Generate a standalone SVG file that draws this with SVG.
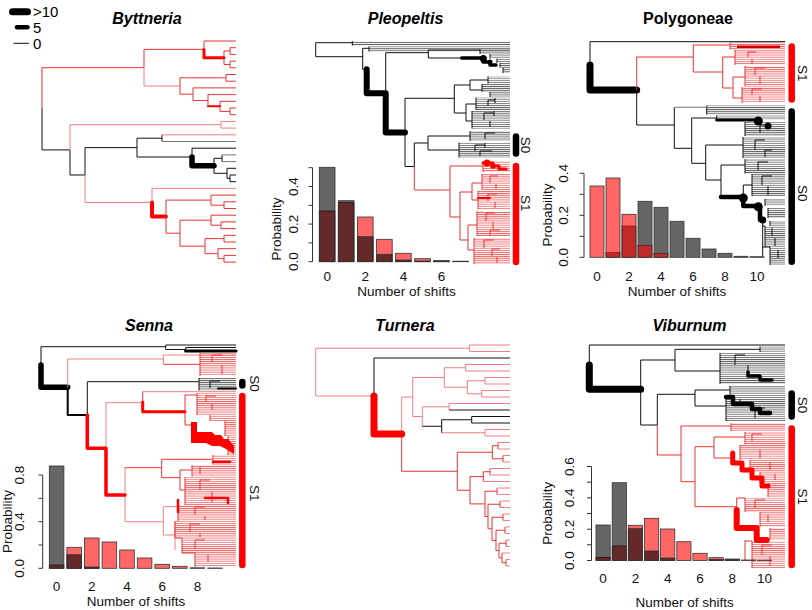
<svg xmlns="http://www.w3.org/2000/svg" width="812" height="610" viewBox="0 0 812 610">
<defs>
<pattern id="hk" width="10" height="2.1" patternUnits="userSpaceOnUse"><rect width="10" height="0.9" fill="#5e5e5e"/></pattern>
<pattern id="hr" width="10" height="2.1" patternUnits="userSpaceOnUse"><rect width="10" height="0.9" fill="#ee6262"/></pattern>
</defs>
<style>
.k{fill:none;stroke:#111;stroke-width:1}
.g{fill:none;stroke:#777;stroke-width:1}
.r{fill:none;stroke:#e53535;stroke-width:1}
.p{fill:none;stroke:#f08080;stroke-width:1}
.tk{fill:none;stroke:#000;stroke-linecap:round;stroke-linejoin:round}
.tr{fill:none;stroke:#f00;stroke-linecap:round;stroke-linejoin:round}
.dk{fill:#000}
.dr{fill:#f00}
.fk{fill:url(#hk)}
.fr{fill:url(#hr)}
.title{font-family:"Liberation Sans",Arial,sans-serif;font-weight:bold;font-size:16px;text-anchor:middle}
.it{font-style:italic}
.ax{font-family:"Liberation Sans",Arial,sans-serif;font-size:13.5px;text-anchor:middle;fill:#111}
.lg{font-family:"Liberation Sans",Arial,sans-serif;font-size:15px;fill:#000}
.bR{fill:rgba(255,0,0,0.6);stroke:#333;stroke-width:0.8}
.bK{fill:rgba(0,0,0,0.6);stroke:#333;stroke-width:0.8}
.axis{fill:none;stroke:#333;stroke-width:1}
.bar{fill:none;stroke-linecap:round;stroke-width:6.5}
</style>
<rect width="812" height="610" fill="#fff"/>

<g id="legend">
<path class="tk" d="M12.5 11.7H27.5" stroke-width="7"/>
<path class="tk" d="M17 27.3H27.5" stroke-width="4.5"/>
<path class="k" d="M13.5 43.3H29"/>
<text class="lg" x="33" y="16.5">&gt;10</text>
<text class="lg" x="33" y="32.5">5</text>
<text class="lg" x="33" y="48.5">0</text>
</g>

<g id="titles">
<text class="title it" x="147" y="23.5">Byttneria</text>
<text class="title it" x="405.5" y="23.5">Pleopeltis</text>
<text class="title" x="688" y="24">Polygoneae</text>
<text class="title it" x="149" y="330.5">Senna</text>
<text class="title it" x="405" y="330.5">Turnera</text>
<text class="title it" x="689.5" y="330.5">Viburnum</text>
</g>

<g id="byttneria">
<path class="r" d="M42 67.7V108M42 67.7H144M144 49.4V67.7M144 49.4H204M204 41V49.4M204 41H236M224 51V64.5M224 51H230M230 47.7V54.4M230 47.7H236M230 54.4H236M224 64.5H230M230 61.1V67.8M230 61.1H236M230 67.8H236"/>
<path class="p" d="M144 67.7V86M144 86H180"/>
<path class="r" d="M180 77.8V94.2M180 77.8H226M226 74.5V81.2M226 74.5H236M226 81.2H236M180 94.2H193M193 87.9V100.5M193 87.9H236M193 100.5H208M208 94.6V106.3M208 94.6H236M220 101.3V111.4M220 101.3H236M220 111.4H230M230 108V114.7M230 108H236M230 114.7H236"/>
<path class="tr" d="M204 49.4V57.7H224" stroke-width="3"/>
<path class="tr" d="M208 106.3H220" stroke-width="2"/>
<path class="k" d="M42 108V149.9M42 149.9H70M70 150V175M70 175H85M85 147.6V175M85 147.6H137M137 138.2V157M137 138.2H162M162 134.8V141.5M137 157H192M192 148.2V157M192 148.2H236M214 158.3V173.3M214 158.3H222M222 154.9V161.6M214 173.3H227M227 168.3V178.3M227 168.3H236M227 178.3H230M230 175V181.7M230 175H236M230 181.7H236"/>
<path class="g" d="M162 141.5H236M222 154.9H236M222 161.6H236"/>
<path class="tk" d="M192 157V165.8H214" stroke-width="5.5"/>
<path class="p" d="M70 124.7V150M70 124.7H221M221 121.4V128.1M221 121.4H236M221 128.1H236M162 134.8H236M85 175V202.5M85 202.5H152M152 188.4V202.5M152 188.4H236"/>
<path class="tr" d="M152 202.5V216.6H166" stroke-width="4"/>
<path class="r" d="M166 200.1V233.2M166 200.1H211M211 195.1V205.2M211 195.1H236M211 205.2H224M224 201.8V208.5M224 201.8H236M224 208.5H236M166 233.2H180M180 220.2V246.2M180 220.2H211M211 215.2V225.2M211 215.2H236M211 225.2H221M221 221.9V228.6M221 221.9H236M221 228.6H236M180 246.2H205M205 238.6V253.7M205 238.6H224M224 235.3V242M224 235.3H236M224 242H236M205 253.7H218M218 248.7V258.7M218 248.7H236M218 258.7H224M224 255.4V262.1M224 255.4H236M224 262.1H236"/>
</g>

<g id="turnera">
<path class="p" d="M315.7 348.25V396M315.7 348.25H469.3M469.3 345V351.5M469.3 345H510M469.3 351.5H510M315.7 396H374"/>
<path class="k" d="M374 358V396M374 358H510"/>
<path class="p" d="M401.7 397V434M401.7 397H412.7M412.7 377.5V416.5M412.7 377.5H444.3M444.3 367.75V387.25M444.3 367.75H465.7M465.7 364.5V371M465.7 364.5H510M465.7 371H510M444.3 387.25H467.3M467.3 380.75V393.75M467.3 380.75H485M485 377.5V384M485 377.5H510M485 384H510M467.3 393.75H481.7M481.7 390.5V397M481.7 390.5H510M481.7 397H510M412.7 416.5H422.3M422.3 406.75V426.25M422.3 406.75H449M449 403.5V410M449 403.5H510M441.7 432.75H485M485 429.5V436M485 429.5H510M485 436H510"/>
<path class="k" d="M449 410H510M422.3 426.25H441.7M441.7 419.75V432.75M441.7 419.75H471.7M471.7 416.5V423M471.7 416.5H510M471.7 423H510"/>
<path class="r" d="M401.7 434V471.25M401.7 471.25H457.3M457.3 452.25V490.25M457.3 452.25H492.3M492.3 445.75V458.75M492.3 445.75H498M498 442.5V449M492.3 458.75H503M503 455.5V462M457.3 490.25H470M470 476.6V503.9M470 476.6H483.3M483.3 471.75V481.5M483.3 471.75H490M490 468.5V475M470 503.9H485M485 491.25V516.5M485 491.25H497M497 488V494.5M485 516.5H488M488 504.25V528.8M488 504.25H500M500 501V507.5M488 528.8H492M492 517.25V540.4M492 517.25H503M503 514V520.5M492 540.4H496M496 530.25V550.6M496 530.25H505M505 527V533.5M496 550.6H499M499 543.25V557.9M499 543.25H506M506 540V546.5M499 557.9H502M502 553V562.75M502 562.75H506M506 559.5V566"/>
<path class="p" d="M498 442.5H510M498 449H510M503 455.5H510M503 462H510M490 468.5H510M490 475H510M483.3 481.5H510M497 488H510M497 494.5H510M500 501H510M500 507.5H510M503 514H510M503 520.5H510M505 527H510M505 533.5H510M506 540H510M506 546.5H510M502 553H510M506 559.5H510M506 566H510"/>
<path class="tr" d="M374 396V434.1H401.7" stroke-width="7"/>
</g>

<g id="pleopeltis">
<rect class="fk" x="352.3" y="41" width="157.7" height="4.5"/>
<rect class="fk" x="369" y="46.5" width="141" height="5"/>
<rect class="fk" x="480" y="49" width="30" height="5"/>
<rect class="fk" x="490" y="54" width="20" height="4.5"/>
<rect class="fk" x="497" y="58.5" width="13" height="4.5"/>
<rect class="fk" x="500" y="63" width="10" height="4.5"/>
<rect class="fk" x="503" y="67.5" width="7" height="5.5"/>
<rect class="fk" x="488" y="76.5" width="22" height="7"/>
<rect class="fk" x="482" y="84" width="28" height="8"/>
<rect class="fk" x="490" y="92" width="20" height="5"/>
<rect class="fk" x="476" y="97.5" width="34" height="12.5"/>
<rect class="fk" x="472" y="111" width="38" height="17.5"/>
<rect class="fk" x="470" y="131" width="40" height="10"/>
<rect class="fk" x="459" y="142.5" width="51" height="15"/>
<rect class="fr" x="483" y="161" width="27" height="11"/>
<rect class="fr" x="482" y="174" width="28" height="16"/>
<rect class="fr" x="478" y="191" width="32" height="18.5"/>
<rect class="fr" x="477" y="211" width="33" height="25"/>
<rect class="fr" x="474" y="238" width="36" height="26"/>
<path class="k" d="M315.7 42.7V56.7M315.7 42.7H352.3M315.7 56.7H362.7M352.3 41V45.5M362.7 48.3V69.3M362.7 48.3H369M369 46.5V51.5M362.7 69.3H366.7M385.7 52.7V93.3M385.7 52.7H428.3M428.3 50V58M428.3 50H480M428.3 58H461.7M480 49V54M490 54V58.5M497 58.5V63M500 63V67.5M503 67.5V73M405 98.3V166.5M405 98.3H454.3M405 166.5H414.3M454.3 85V113M454.3 85H470M470 80V90M470 80H488M470 90H482M488 76.5V83.5M482 84V92M490 92V97M454.3 113H466M466 104V121M466 104H476M466 121H472M476 97.5V110M472 111V128.5M488 100V106M488 100H495M495 98V103M484 113V120M484 113H494M494 111V116M490 121V127M414.3 143V166.5M414.3 143H428M428 136V150M428 136H470M428 150H459M470 131V141M459 142.5V157.5M475 145V151M475 145H485M485 143V148M480 151V156M480 151H492M485 133V139M485 133H495"/>
<path class="tk" d="M366.7 69.3V93.3H385.7V132.4H405" stroke-width="6"/>
<path class="tk" d="M461.7 58H483V62H490V65H496" stroke-width="3.5"/>
<circle class="dk" cx="483.3" cy="58.5" r="3.6"/>
<circle class="dk" cx="490" cy="62" r="2.5"/>
<path class="r" d="M414.3 166.5V190M414.3 190H450M450 166V217M450 166H483M450 217H460M460 192V240M460 192H472M472 183V200M472 183H482M472 200H478M460 240H468M468 225V250M468 225H477M468 250H474M483 161V172M482 174V190M478 191V209.5M477 211V236M474 238V264M490 176V183M490 176H498M496 184V189M488 194V201M488 194H497M495 202V208M486 213V221M486 213H495M493 222V229M490 230V236M490 230H500M484 240V248M484 240H494M492 249V256M492 249H500M497 257V263"/>
<path class="tr" d="M483 163H493V166H499V169H506" stroke-width="3"/>
<circle class="dr" cx="487" cy="163" r="3.5"/>
<circle class="dr" cx="493" cy="166" r="2.8"/>
<path class="tr" d="M478 198H490" stroke-width="2.2"/>
</g>

<g id="polygoneae">
<rect class="fr" x="730" y="42.5" width="55" height="7"/>
<rect class="fr" x="735" y="50" width="50" height="15"/>
<rect class="fr" x="745" y="66" width="40" height="20.5"/>
<rect class="fr" x="742" y="87" width="43" height="16"/>
<rect class="fk" x="706.7" y="105.5" width="78.3" height="9"/>
<rect class="fk" x="716.7" y="115.5" width="68.3" height="4"/>
<rect class="fk" x="745" y="122" width="40" height="14"/>
<rect class="fk" x="743" y="137" width="42" height="21"/>
<rect class="fk" x="745" y="159" width="40" height="14.5"/>
<rect class="fk" x="752" y="174" width="33" height="22"/>
<rect class="fk" x="765" y="199" width="20" height="7"/>
<rect class="fk" x="768" y="208" width="17" height="10"/>
<rect class="fk" x="770" y="221" width="15" height="5"/>
<rect class="fk" x="765" y="226" width="20" height="21"/>
<rect class="fk" x="770" y="247" width="15" height="18"/>
<path class="k" d="M590 41.7V65M590 41.7H785M636.7 90V125M636.7 125H674.3M674.3 107.3V148.3M674.3 148.3H691.7M706.7 105.5V114.5M745 122V136M743 137V158M745 159V173.5M752 174V196M765 199V206M768 208V218M770 221V226M765 226V247M770 247V265M762.7 220V256M762.7 226H765M762.7 247H770M755 140V150M755 140H765M765 150V157M765 150H772M760 125V133M760 125H770M758 162V170M758 162H768M762 176V185M762 176H772M768 186V195M772 228V236M775 238V246M778 250V258"/>
<path class="g" d="M674.3 107.3H706.7"/>
<path class="k" d="M691.7 118V163.3M691.7 118H716.7M716.7 115.5V120M691.7 163.3H705.7M705.7 145V180M705.7 145H743M705.7 180H721M721 165V197M721 165H745M743.3 185V198M743.3 185H752" stroke-width="1.6"/>
<path class="tk" d="M590 65V90H636.7" stroke-width="7"/>
<path class="tk" d="M716.7 120H758" stroke-width="3"/>
<circle class="dk" cx="758.3" cy="121" r="4.5"/>
<circle class="dk" cx="768" cy="126" r="3.5"/>
<path class="tk" d="M721 197H743.3V206H758.3M760 207V220" stroke-width="4.5"/>
<circle class="dk" cx="743.3" cy="198" r="4.5"/>
<circle class="dk" cx="758.3" cy="206.7" r="4.5"/>
<circle class="dk" cx="762.7" cy="220" r="3.5"/>
<path class="r" d="M636.7 57V90M636.7 57H693.3M693.3 45V72M693.3 45H730M693.3 72H722.7M722.7 57V88M722.7 57H735M722.7 88H733M733 77V98M733 77H745M733 98H742M730 42.5V49.5M735 50V65M745 66V86.5M742 87V103M748 52V57M748 52H756M752 59V64M755 68V75M755 68H765M760 76V84M752 89V95M752 89H762M760 96V102"/>
<path d="M737 46.7H780" fill="none" stroke="#c00" stroke-width="2.5"/>
</g>

<g id="senna">
<rect class="fk" x="199" y="378" width="37" height="12.5"/>
<rect class="fr" x="200" y="353" width="36" height="23"/>
<rect class="fr" x="197" y="393" width="39" height="22"/>
<rect class="fr" x="210" y="415" width="26" height="6"/>
<rect class="fr" x="225" y="421" width="11" height="15"/>
<rect class="fr" x="228" y="436" width="8" height="19"/>
<rect class="fr" x="213" y="455" width="23" height="9.5"/>
<rect class="fr" x="192" y="465" width="44" height="11.5"/>
<rect class="fr" x="185" y="477" width="51" height="28"/>
<rect class="fr" x="178" y="505" width="58" height="16"/>
<rect class="fr" x="175" y="521" width="61" height="17"/>
<rect class="fr" x="182" y="538" width="54" height="15"/>
<rect class="fr" x="195" y="553" width="41" height="14"/>
<path class="k" d="M41 346.7V365M41 346.7H165.7M165.7 345V349.5M165.7 345H236M165.7 349.5H185.7M185.7 347.5V351M185.7 347.5H236M87.3 381.7V415M87.3 381.7H199M199 378V390.5M210 381V388M210 381H220"/>
<path class="tk" d="M185.7 351H236" stroke-width="3.2"/>
<path class="tk" d="M218 388.5H236" stroke-width="2"/>
<path class="tk" d="M41 365V387.3H67.7" stroke-width="5.5"/>
<path class="tk" d="M67.7 387.3V415H87.3" stroke-width="2"/>
<path class="p" d="M67.7 359V387.3M67.7 359H163.3M163.3 355V364.3M163.3 355H236M106 402.7V448.3M106 402.7H142.7M142.7 391.7H236M125 467.7V521.7M125 521.7H163.3M163.3 506.7V535M163.3 506.7H178M163.3 535H175M175 522V550"/>
<path class="r" d="M163.3 364.3H200M200 353V376M142.7 391.7V402M185 395V425M185 395H197M197 393V415M185 425H192M210 415V421M225 421V436M228 436V455M125 467.7H161.7M161.7 459.3V477.7M161.7 459.3H213M213 455V464.5M161.7 477.7H180M180 470V490M180 470H192M192 465V476.5M180 490H185M185 477V505M178 505V521M175 521V538M182 538V553M195 553V567M175 538H182M182 553H195M212 355V362M212 355H222M222 365V374M206 396V402M206 396H216M212 404V410M200 467V474M200 480V490M200 480H210M212 492V502M195 507V515M195 507H205M205 516V520M190 524V532M190 524H200M200 533V537M195 540V549M195 540H205M208 555V562"/>
<path class="tr" d="M87.3 415V448.3H106V495H125" stroke-width="3.5"/>
<path class="tr" d="M142.7 402V411.7H185" stroke-width="3"/>
<path d="M191 422H197V432H212L215 435H221L224 439H228L234 446V454L226 449L220 446H212L206 443H191Z" fill="#f00"/>
<path class="tr" d="M213 462H230M205 498H228V503M178 500V512" stroke-width="2.5"/>
</g>

<g id="viburnum">
<rect class="fk" x="760" y="346.5" width="25" height="5.5"/>
<rect class="fk" x="720" y="353" width="65" height="31"/>
<rect class="fk" x="730" y="386" width="55" height="8.5"/>
<rect class="fk" x="726" y="395" width="59" height="26"/>
<rect class="fr" x="731" y="423" width="54" height="8"/>
<rect class="fr" x="745" y="432" width="40" height="12.5"/>
<rect class="fr" x="740" y="445" width="45" height="15"/>
<rect class="fr" x="750" y="460" width="35" height="12"/>
<rect class="fr" x="760" y="472" width="25" height="11"/>
<rect class="fr" x="768" y="483" width="17" height="14"/>
<rect class="fr" x="745" y="498" width="40" height="14"/>
<rect class="fr" x="760" y="512" width="25" height="15"/>
<rect class="fr" x="770" y="528" width="15" height="12"/>
<rect class="fr" x="752" y="541" width="33" height="27"/>
<path class="k" d="M589.3 345V365M589.3 345H785M640.7 360V425M640.7 360H675M675 349.3V371M675 349.3H760M760 346.5V352M675 371H720M720 353V384M640.7 425H657.3M657.3 394.3V425M657.3 394.3H695M695 390V406M695 390H730M730 386V394.5M695 406H726M726 395V421M735 355V365M735 355H745M748 365V378M740 399V405M755 408V418M755 408H765"/>
<path class="tk" d="M596 389.3" stroke-width="7"/>
<path class="tk" d="M589.3 365V389.3H640.7" stroke-width="7"/>
<path class="tk" d="M748 372V376H760V380H772" stroke-width="3.5"/>
<path class="tk" d="M726 397H733V404H752V409H760V413H770" stroke-width="4.5"/>
<path class="r" d="M657.3 425V455M657.3 455H681M681 426V481.7M681 426H731M731 423V431M681 481.7H695M695 446.7V506.7M695 446.7H714M714 437V458M714 437H745M745 432V444.5M714 458H732.7M740 445V460M750 460V472M760 472V483M768 483V497M695 506.7H736.7M736.7 498V510M736.7 498H745M745 498V512M760 512V527M770 528V540M752 541V568M745 540V560M745 541H752M752 434V441M752 434H762M760 450V458M770 462V470M775 474V480M755 500V508M755 500H765M768 515V522M762 545V555M762 545H772M770 556V566"/>
<path class="tr" d="M732.7 453V463H742V470H752V478H762V486H768" stroke-width="5"/>
<path class="tr" d="M736.7 510V528H756.7V540H766.7" stroke-width="6"/>
</g>

<g id="state-bars">
<path class="bar" stroke="#000" d="M516 136.5V153.5"/>
<path class="bar" stroke="#f00" d="M516 166V262"/>
<path class="bar" stroke="#f00" d="M791.7 46.5V99.5"/>
<path class="bar" stroke="#000" d="M791.7 111.5V261.8"/>
<path class="bar" stroke="#000" d="M242.3 382V385.5" stroke-width="7.5"/>
<path class="bar" stroke="#f00" d="M242.3 396V565"/>
<path class="bar" stroke="#000" d="M791.7 393.5V416.5"/>
<path class="bar" stroke="#f00" d="M791.7 428.5V565"/>
<text class="ax" transform="translate(521,145) rotate(90)">S0</text>
<text class="ax" transform="translate(521,203.3) rotate(90)">S1</text>
<text class="ax" transform="translate(798,73.3) rotate(90)">S1</text>
<text class="ax" transform="translate(798,193.3) rotate(90)">S0</text>
<text class="ax" transform="translate(249.5,383.5) rotate(90)">S0</text>
<text class="ax" transform="translate(249.5,493.3) rotate(90)">S1</text>
<text class="ax" transform="translate(798,405) rotate(90)">S0</text>
<text class="ax" transform="translate(798,496.7) rotate(90)">S1</text>
</g>

<g id="hist-pleopeltis">
<rect class="bR" x="319.3" y="211" width="15.7" height="50.7"/>
<rect class="bR" x="338.3" y="202.7" width="15.7" height="59"/>
<rect class="bR" x="357.4" y="217" width="15.7" height="44.7"/>
<rect class="bR" x="376.5" y="239.3" width="15.7" height="22.4"/>
<rect class="bR" x="395.5" y="253.3" width="15.7" height="8.4"/>
<rect class="bR" x="414.6" y="258.7" width="15.7" height="3"/>
<rect class="bR" x="433.6" y="260.7" width="15.7" height="1"/>
<rect class="bK" x="319.3" y="167.3" width="15.7" height="94.4"/>
<rect class="bK" x="338.3" y="200.7" width="15.7" height="61"/>
<rect class="bK" x="357.4" y="236.7" width="15.7" height="25"/>
<rect class="bK" x="376.5" y="254.3" width="15.7" height="7.4"/>
<rect class="bK" x="395.5" y="260" width="15.7" height="1.7"/>
<rect class="bK" x="414.6" y="261" width="15.7" height="0.7"/>
<rect class="bK" x="433.6" y="261" width="15.7" height="0.7"/>
<rect class="bK" x="452.7" y="261.2" width="15.7" height="0.5"/>
<path class="axis" d="M312.5 167.7V261.7M308.5 261.7H312.5M308.5 242.9H312.5M308.5 224.1H312.5M308.5 205.3H312.5M308.5 186.5H312.5M308.5 167.7H312.5"/>
<text class="ax" transform="translate(298,261.7) rotate(-90)">0.0</text>
<text class="ax" transform="translate(298,224.1) rotate(-90)">0.2</text>
<text class="ax" transform="translate(298,186.5) rotate(-90)">0.4</text>
<text class="ax" transform="translate(280.5,229) rotate(-90)">Probability</text>
<text class="ax" x="327.2" y="281">0</text>
<text class="ax" x="365.2" y="281">2</text>
<text class="ax" x="403.4" y="281">4</text>
<text class="ax" x="441.5" y="281">6</text>
<text class="ax" x="406.5" y="296">Number of shifts</text>
</g>

<g id="hist-polygoneae">
<rect class="bK" x="606" y="252.3" width="14" height="5"/>
<rect class="bK" x="622" y="226" width="14" height="31.3"/>
<rect class="bK" x="638" y="201.3" width="14" height="56"/>
<rect class="bK" x="654" y="207.3" width="14" height="50"/>
<rect class="bK" x="670" y="221.3" width="14" height="36"/>
<rect class="bK" x="686" y="238.3" width="14" height="19"/>
<rect class="bK" x="702" y="249" width="14" height="8.3"/>
<rect class="bK" x="718" y="253.3" width="14" height="4"/>
<rect class="bK" x="734" y="256.3" width="14" height="1"/>
<rect class="bK" x="750" y="256.7" width="14" height="0.6"/>
<rect class="bR" x="590" y="186" width="14" height="71.3"/>
<rect class="bR" x="606" y="178" width="14" height="79.3"/>
<rect class="bR" x="622" y="214.3" width="14" height="43"/>
<rect class="bR" x="638" y="245.3" width="14" height="12"/>
<rect class="bR" x="654" y="253.3" width="14" height="4"/>
<path class="axis" d="M584 173.3V257.3M579.5 257.3H584M579.5 236.3H584M579.5 215.3H584M579.5 194.3H584M579.5 173.3H584"/>
<text class="ax" transform="translate(568,257.3) rotate(-90)">0.0</text>
<text class="ax" transform="translate(568,215.3) rotate(-90)">0.2</text>
<text class="ax" transform="translate(568,173.3) rotate(-90)">0.4</text>
<text class="ax" transform="translate(551.5,215) rotate(-90)">Probability</text>
<text class="ax" x="597" y="281">0</text>
<text class="ax" x="629" y="281">2</text>
<text class="ax" x="661" y="281">4</text>
<text class="ax" x="693" y="281">6</text>
<text class="ax" x="725" y="281">8</text>
<text class="ax" x="757" y="281">10</text>
<text class="ax" x="677" y="296">Number of shifts</text>
</g>

<g id="hist-senna">
<rect class="bR" x="49.3" y="565" width="14.6" height="3.3"/>
<rect class="bR" x="66.9" y="547.3" width="14.6" height="21"/>
<rect class="bR" x="84.5" y="538" width="14.6" height="30.3"/>
<rect class="bR" x="102.1" y="542" width="14.6" height="26.3"/>
<rect class="bR" x="119.7" y="550" width="14.6" height="18.3"/>
<rect class="bR" x="137.3" y="558" width="14.6" height="10.3"/>
<rect class="bR" x="154.9" y="564.3" width="14.6" height="4"/>
<rect class="bR" x="172.5" y="566.3" width="14.6" height="2"/>
<rect class="bK" x="49.3" y="466" width="14.6" height="102.3"/>
<rect class="bK" x="66.9" y="554.7" width="14.6" height="13.6"/>
<rect class="bK" x="84.5" y="567" width="14.6" height="1.3"/>
<rect class="bK" x="190.1" y="567.8" width="14.6" height="0.5"/>
<rect class="bK" x="207.7" y="568" width="14.6" height="0.3"/>
<path class="axis" d="M42.7 475V568.3M38.5 568.3H42.7M38.5 545H42.7M38.5 521.7H42.7M38.5 498.3H42.7M38.5 475H42.7"/>
<text class="ax" transform="translate(23.5,568.3) rotate(-90)">0.0</text>
<text class="ax" transform="translate(23.5,521.7) rotate(-90)">0.4</text>
<text class="ax" transform="translate(23.5,475) rotate(-90)">0.8</text>
<text class="ax" transform="translate(11.5,521.5) rotate(-90)">Probability</text>
<text class="ax" x="56.6" y="591">0</text>
<text class="ax" x="91.8" y="591">2</text>
<text class="ax" x="127" y="591">4</text>
<text class="ax" x="162.2" y="591">6</text>
<text class="ax" x="197.4" y="591">8</text>
<text class="ax" x="136" y="605.5">Number of shifts</text>
</g>

<g id="hist-viburnum">
<rect class="bR" x="596" y="557.3" width="14.2" height="3.2"/>
<rect class="bR" x="612.2" y="546" width="14.2" height="14.5"/>
<rect class="bR" x="628.3" y="525.3" width="14.2" height="35.2"/>
<rect class="bR" x="644.5" y="518.3" width="14.2" height="42.2"/>
<rect class="bR" x="660.6" y="529" width="14.2" height="31.5"/>
<rect class="bR" x="676.8" y="541.7" width="14.2" height="18.8"/>
<rect class="bR" x="692.9" y="553.3" width="14.2" height="7.2"/>
<rect class="bR" x="709.1" y="557.7" width="14.2" height="2.8"/>
<rect class="bR" x="725.2" y="559" width="14.2" height="1.5"/>
<rect class="bK" x="596" y="525" width="14.2" height="35.5"/>
<rect class="bK" x="612.2" y="482.7" width="14.2" height="77.8"/>
<rect class="bK" x="628.3" y="528.7" width="14.2" height="31.8"/>
<rect class="bK" x="644.5" y="551" width="14.2" height="9.5"/>
<rect class="bK" x="660.6" y="558" width="14.2" height="2.5"/>
<rect class="bK" x="709.1" y="559.5" width="14.2" height="1"/>
<rect class="bK" x="725.2" y="559.5" width="14.2" height="1"/>
<rect class="bK" x="741.4" y="560" width="14.2" height="0.5"/>
<rect class="bK" x="757.5" y="560.2" width="14.2" height="0.3"/>
<path class="axis" d="M591.5 466.5V560.5M587 560.5H591.5M587 544.8H591.5M587 529.2H591.5M587 513.5H591.5M587 497.8H591.5M587 482.2H591.5M587 466.5H591.5"/>
<text class="ax" transform="translate(574,560.5) rotate(-90)">0.0</text>
<text class="ax" transform="translate(574,529.2) rotate(-90)">0.2</text>
<text class="ax" transform="translate(574,497.8) rotate(-90)">0.4</text>
<text class="ax" transform="translate(574,466.5) rotate(-90)">0.6</text>
<text class="ax" transform="translate(551.5,513.3) rotate(-90)">Probability</text>
<text class="ax" x="603.1" y="583">0</text>
<text class="ax" x="635.4" y="583">2</text>
<text class="ax" x="667.7" y="583">4</text>
<text class="ax" x="700" y="583">6</text>
<text class="ax" x="732.3" y="583">8</text>
<text class="ax" x="764.6" y="583">10</text>
<text class="ax" x="684.7" y="607">Number of shifts</text>
</g>
</svg>
